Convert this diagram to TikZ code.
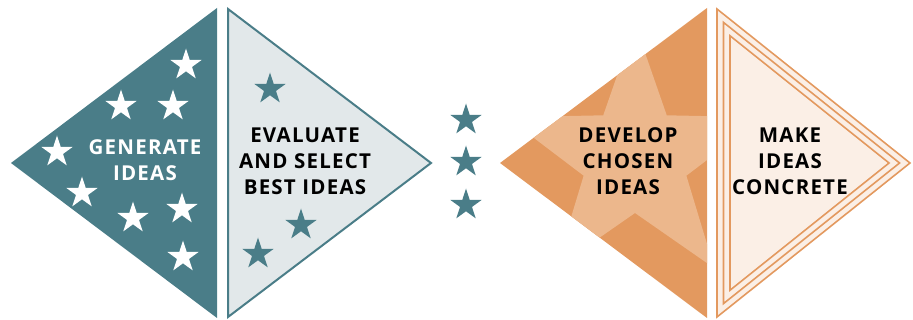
\documentclass[tikz,border=0pt]{standalone}
\usepackage{fontspec}
\setmainfont{Open Sans}[LetterSpace=6]
\usetikzlibrary{shapes.geometric}
\definecolor{ideateal}{HTML}{4A7D88}
\definecolor{ideapale}{HTML}{E2E8EA}
\definecolor{ideaorange}{HTML}{E3995F}
\definecolor{ideapeach}{HTML}{ECB78C}
\definecolor{ideacream}{HTML}{FBEFE6}

\begin{document}
\begin{tikzpicture}[x=1pt,y=-1pt,
    smallstar/.style={star,star points=5,star point ratio=2.618,minimum size=33pt,inner sep=0pt,draw=none},
    stagetext/.style={align=center,font=\fontsize{20.5}{26}\selectfont\bfseries}]
\useasboundingbox (0,0) rectangle (913,320);

\fill[color=ideateal] (11,163) -- (217,8) -- (217,318) -- cycle;
\draw[color=ideateal,fill=ideapale,line width=2pt] (228,9) -- (431,163) -- (228,317) -- cycle;

\foreach \sx/\sy [count=\i] in {186/65,121/106,173/106,57/152,82/193,133/218,182/209,183/257}
    \node[smallstar,fill=white] (gen\i) at (\sx,\sy) {};
\foreach \sx/\sy [count=\i] in {270/89,301/225,258/254}
    \node[smallstar,fill=ideateal] (eval\i) at (\sx,\sy) {};
\foreach \sy [count=\i] in {120,162,205}
    \node[smallstar,fill=ideateal] (mid\i) at (466,\sy) {};

\node[stagetext,text=white] (generate) at (145,160) {GENERATE\\IDEAS};
\node[stagetext] (evaluate) at (305,161) {EVALUATE\\AND SELECT\\BEST IDEAS};

\fill[color=ideaorange] (500,163) -- (707,8) -- (707,318) -- cycle;
\begin{scope}
\clip (500,163) -- (707,8) -- (707,318) -- cycle;
\node[star,star points=5,star point ratio=2.5,minimum size=270pt,inner sep=0pt,fill=ideapeach] (bigstar) at (635,159) {};
\end{scope}

\fill[color=ideacream] (717,9) -- (910,163) -- (717,317) -- cycle;
\foreach \d in {0,6.5,13}
    \draw[color=ideaorange,line width=1.6pt] ({717+\d},{9+2.06*\d}) -- ({910-1.61*\d},163)
        -- ({717+\d},{317-2.06*\d}) -- cycle;

\node[stagetext] (develop) at (628,161) {DEVELOP\\CHOSEN\\IDEAS};
\node[stagetext] (make) at (790,161) {MAKE\\IDEAS\\CONCRETE};
\end{tikzpicture}
\end{document}
